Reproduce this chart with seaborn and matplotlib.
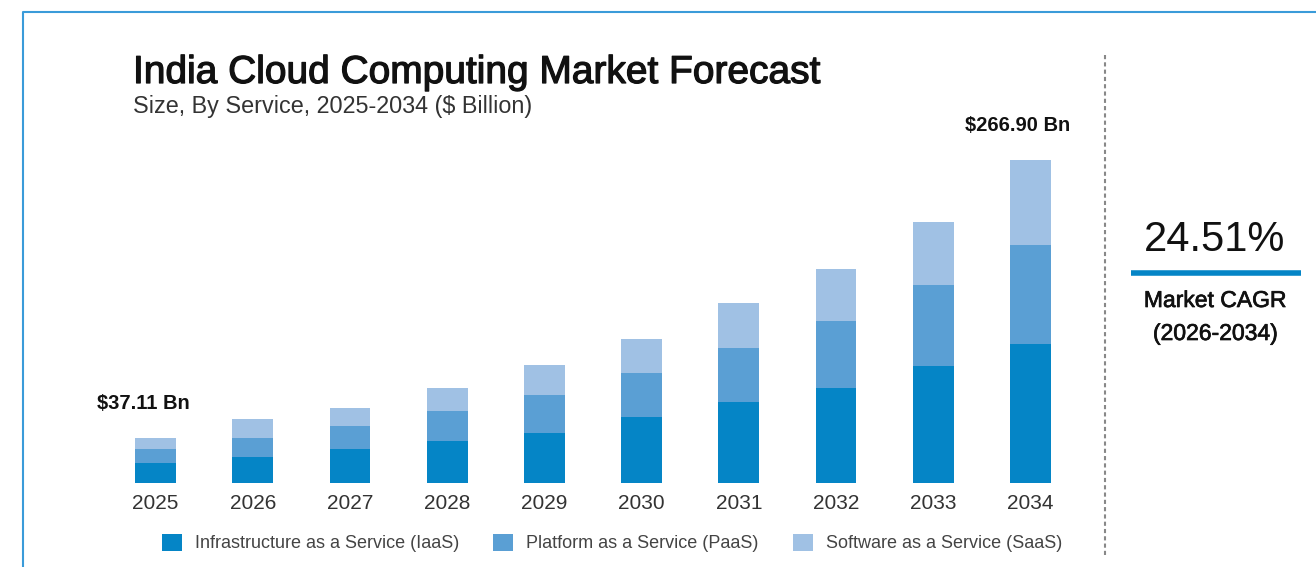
import matplotlib
matplotlib.use("Agg")
import matplotlib.pyplot as plt
from matplotlib.lines import Line2D
from matplotlib.patches import Patch
import matplotlib.patheffects as pe
import seaborn as sns
import pandas as pd

# Market size by service segment, $ billion
years = ["2025", "2026", "2027", "2028", "2029", "2030", "2031", "2032", "2033", "2034"]
iaas = [16.87, 21.5, 27.7, 34.9, 41.6, 54.4, 67.0, 78.8, 96.6, 114.9]
paas = [11.25, 15.8, 19.2, 24.4, 31.4, 36.3, 44.4, 54.9, 67.4, 81.8]
saas = [8.99, 15.9, 15.2, 18.9, 24.9, 28.7, 37.5, 42.9, 51.9, 70.2]
segment_names = ["Infrastructure as a Service (IaaS)",
                 "Platform as a Service (PaaS)",
                 "Software as a Service (SaaS)"]
first_label = "$37.11 Bn"
last_label = "$266.90 Bn"
cagr_text = "24.51%"

colors = ["#0585c6", "#5a9fd4", "#a0c1e4"]

sns.set_style("white")
plt.rcParams["font.family"] = ["Liberation Sans", "DejaVu Sans"]

df = pd.DataFrame({"year": years, "iaas": iaas, "paas": paas, "saas": saas})
df["lvl1"] = df["iaas"]
df["lvl2"] = df["iaas"] + df["paas"]
df["lvl3"] = df["lvl2"] + df["saas"]

fig = plt.figure(figsize=(13.16, 5.67), dpi=100)
W, H = 1316, 567

def fx(px):
    return px / W

def fy(py):
    return 1 - py / H

# medium-weight look: regular glyphs with a thin outline of the same colour
def medium(color, w=0.7):
    return [pe.withStroke(linewidth=w, foreground=color)]

# plot area: baseline at y=483px, ylim 0..300
ax_left, ax_right = 107, 1079
ax_bottom, ax_top = 483, 483 - 300 * 1.21
ax = fig.add_axes([fx(ax_left), fy(ax_bottom), fx(ax_right - ax_left), (ax_bottom - ax_top) / H])

# stacked bars drawn as overlapping cumulative totals
for col, c in zip(["lvl3", "lvl2", "lvl1"], colors[::-1]):
    sns.barplot(data=df, x="year", y=col, color=c, width=0.42, saturation=1,
                ax=ax, errorbar=None, linewidth=0)

ax.set_xlim(-0.5, len(years) - 0.5)
ax.set_ylim(0, 300)
ax.set_xlabel("")
ax.set_ylabel("")
ax.set_yticks([])
ax.tick_params(axis="x", length=0, labelsize=15, labelcolor="#333333", pad=8)
sns.despine(ax=ax, left=True, bottom=True)

tot = df["lvl3"].to_numpy()
ax.annotate(first_label, (0, tot[0]), xytext=(-9, 18), textcoords="offset points",
            ha="center", va="bottom", fontsize=14.5, fontweight="bold", color="#111111")
ax.annotate(last_label, (len(years) - 1, tot[-1]), xytext=(-9, 18), textcoords="offset points",
            ha="center", va="bottom", fontsize=14.5, fontweight="bold", color="#111111")

# titles
fig.text(fx(133), fy(83), "India Cloud Computing Market Forecast", fontsize=28,
         color="#111111", ha="left", va="baseline", path_effects=medium("#111111", 0.9))
fig.text(fx(133), fy(113), "Size, By Service, 2025-2034 ($ Billion)", fontsize=16.8,
         color="#333333", ha="left", va="baseline")

# legend
handles = [Patch(facecolor=c, edgecolor="none") for c in colors]
fig.legend(handles, segment_names, loc="center", bbox_to_anchor=(fx(612), fy(543)),
           ncol=3, frameon=False, fontsize=13, handlelength=1.1, handleheight=1.1,
           handletextpad=0.72, columnspacing=1.9, labelcolor="#444444")

# side panel with CAGR
fig.add_artist(Line2D([fx(1105), fx(1105)], [fy(55), fy(556)], color="#888888",
                      linewidth=1.5, linestyle=(0, (2, 1.5))))
fig.text(fx(1215), fy(251), cagr_text, fontsize=30, color="#111111", ha="center",
         va="baseline")
fig.add_artist(Line2D([fx(1131), fx(1301)], [fy(273), fy(273)], color="#0585c6",
                      linewidth=4, solid_capstyle="butt"))
fig.text(fx(1215), fy(307), "Market CAGR", fontsize=16.5, color="#111111", ha="center",
         va="baseline", path_effects=medium("#111111", 0.5))
fig.text(fx(1215), fy(340), "(2026-2034)", fontsize=16.5, color="#111111", ha="center",
         va="baseline", path_effects=medium("#111111", 0.5))

# card frame
fig.add_artist(Line2D([fx(23), fx(23), fx(1316)], [0, fy(12), fy(12)], color="#3a9bd9",
                      linewidth=1.5))

fig.savefig("out.png", dpi=100, facecolor="white")
